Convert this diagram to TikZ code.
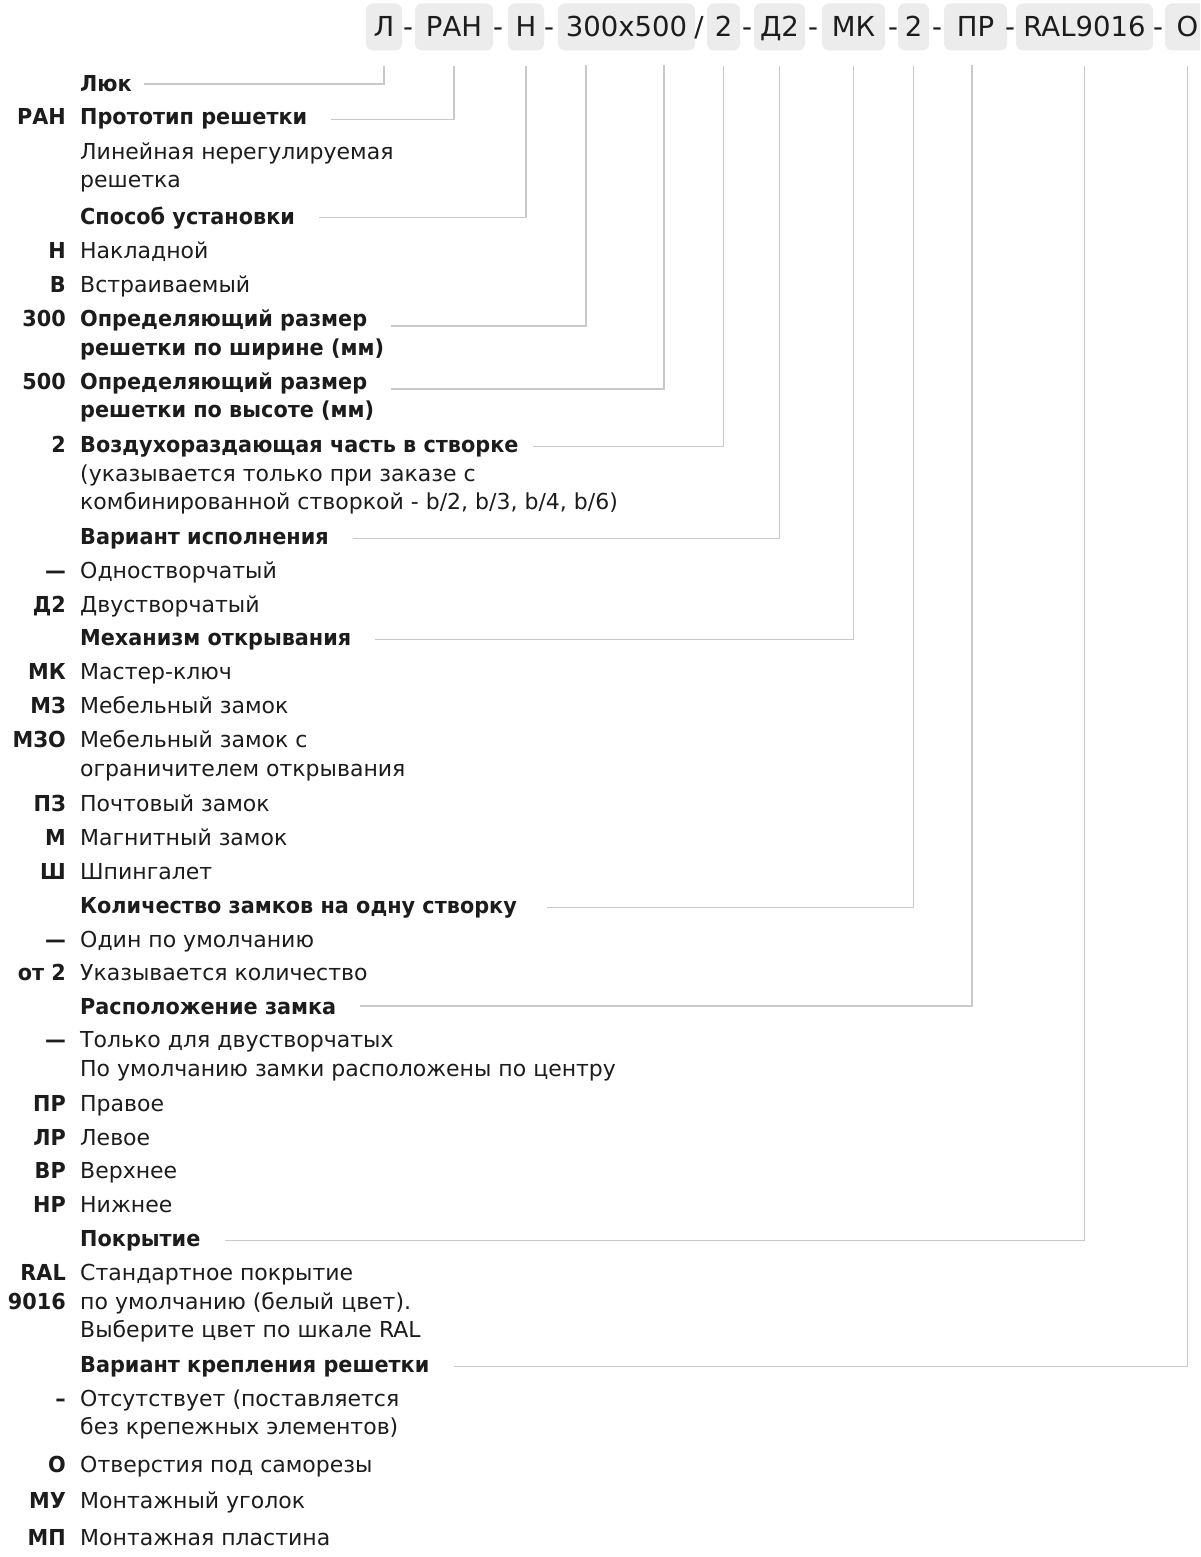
\documentclass[tikz,border=0pt]{standalone}
\usepackage{fontspec}
\setmainfont{DejaVu Sans}[BoldFeatures={FakeStretch=0.945}]
\definecolor{ink}{HTML}{1C1C1C}
\definecolor{boxgray}{HTML}{ECECEC}
\definecolor{linegray}{HTML}{C9C9C9}
\newcommand{\bodyfs}{\fontsize{22}{28}\selectfont}
\newcommand{\headfs}{\fontsize{27.5}{34}\selectfont}
\tikzset{
  code/.style={anchor=base east, font=\bodyfs\bfseries, inner sep=0pt, text=ink},
  desc/.style={anchor=base west, font=\bodyfs, inner sep=0pt, text=ink},
  ttl/.style={anchor=base west, font=\bodyfs\bfseries, inner sep=0pt, text=ink},
  cbox/.style={fill=boxgray, rounded corners=7pt, minimum height=47pt, inner xsep=0pt, inner ysep=0pt,
    font=\headfs, text=ink, text height=20pt, text depth=0pt, anchor=center},
  sepch/.style={font=\headfs, text=ink, inner sep=0pt, text height=20pt, text depth=0pt, anchor=center},
  lead/.style={draw=linegray, line width=1.3pt},
}
\begin{document}
\begin{tikzpicture}[x=1pt,y=-1pt]
\clip (0,0) rectangle (1200,1557);
\fill[white] (0,0) rectangle (1200,1557);
% header
\node[cbox, minimum width=36pt]  (bL)   at (384,27)   {Л};
\node[sepch] (s1) at (408,27) {-};
\node[cbox, minimum width=78pt]  (bRAN) at (454,27)   {РАН};
\node[sepch] (s2) at (498,27) {-};
\node[cbox, minimum width=36pt]  (bN)   at (526,27)   {Н};
\node[sepch] (s3) at (549,27) {-};
\node[cbox, minimum width=137pt] (bSz)  at (626.5,27) {300x500};
\node[sepch] (s4) at (699,27) {/};
\node[cbox, minimum width=33pt]  (bB)   at (723.5,27) {2};
\node[sepch] (s5) at (747,27) {-};
\node[cbox, minimum width=51pt]  (bD)   at (779.5,27) {Д2};
\node[sepch] (s6) at (813,27) {-};
\node[cbox, minimum width=63pt]  (bMK)  at (853.5,27) {МК};
\node[sepch] (s7) at (893,27) {-};
\node[cbox, minimum width=31pt]  (bQ)   at (913.5,27) {2};
\node[sepch] (s8) at (937,27) {-};
\node[cbox, minimum width=63pt]  (bPR)  at (975.5,27) {ПР};
\node[sepch] (s9) at (1010,27) {-};
\node[cbox, minimum width=137pt] (bRAL) at (1084.5,27) {RAL9016};
\node[sepch] (s10) at (1158,27) {-};
\node[cbox, minimum width=45pt]  (bO)   at (1187.5,27) {О};
\coordinate (tW) at (586,65);
\coordinate (tH) at (664,65);
\coordinate (tP) at (972,65);

% rows
\node[ttl] (tLuk) at (80,92) {Люк};
\node[code] (cRAN) at (66,125) {РАН};
\node[ttl] (tProt) at (80,125) {Прототип решетки};
\node[desc] (dProt1) at (80,160) {Линейная нерегулируемая};
\node[desc] (dProt2) at (80,188) {решетка};
\node[ttl] (tSpos) at (80,224) {Способ установки};
\node[code] (cN) at (66,258) {Н};
\node[desc] (dN) at (80,258) {Накладной};
\node[code] (cV) at (66,292) {В};
\node[desc] (dV) at (80,292) {Встраиваемый};
\node[code] (c300) at (66,326) {300};
\node[ttl] (tW1) at (80,326) {Определяющий размер};
\node[ttl] (tW2) at (80,355) {решетки по ширине (мм)};
\node[code] (c500) at (66,389) {500};
\node[ttl] (tH1) at (80,389) {Определяющий размер};
\node[ttl] (tH2) at (80,417) {решетки по высоте (мм)};
\node[code] (c2) at (66,452) {2};
\node[ttl] (tAir) at (80,452) {Воздухораздающая часть в створке};
\node[desc] (dAir1) at (80,481) {(указывается только при заказе с};
\node[desc] (dAir2) at (80,509) {комбинированной створкой - b/2, b/3, b/4, b/6)};
\node[ttl] (tVar) at (80,544) {Вариант исполнения};
\node[code] (cV1) at (66,578) {—};
\node[desc] (dV1) at (80,578) {Одностворчатый};
\node[code] (cV2) at (66,612) {Д2};
\node[desc] (dV2) at (80,612) {Двустворчатый};
\node[ttl] (tMech) at (80,645) {Механизм открывания};
\node[code] (cMK) at (66,679) {МК};
\node[desc] (dMK) at (80,679) {Мастер-ключ};
\node[code] (cMZ) at (66,713) {МЗ};
\node[desc] (dMZ) at (80,713) {Мебельный замок};
\node[code] (cMZO) at (66,747) {МЗО};
\node[desc] (dMZO1) at (80,747) {Мебельный замок с};
\node[desc] (dMZO2) at (80,776) {ограничителем открывания};
\node[code] (cPZ) at (66,811) {ПЗ};
\node[desc] (dPZ) at (80,811) {Почтовый замок};
\node[code] (cM) at (66,845) {М};
\node[desc] (dM) at (80,845) {Магнитный замок};
\node[code] (cSh) at (66,879) {Ш};
\node[desc] (dSh) at (80,879) {Шпингалет};
\node[ttl] (tQty) at (80,913) {Количество замков на одну створку};
\node[code] (cQ1) at (66,947) {—};
\node[desc] (dQ1) at (80,947) {Один по умолчанию};
\node[code] (cQ2) at (66,980) {от 2};
\node[desc] (dQ2) at (80,980) {Указывается количество};
\node[ttl] (tLoc) at (80,1014) {Расположение замка};
\node[code] (cL0) at (66,1047) {—};
\node[desc] (dL01) at (80,1047) {Только для двустворчатых};
\node[desc] (dL02) at (80,1076) {По умолчанию замки расположены по центру};
\node[code] (cPR) at (66,1111) {ПР};
\node[desc] (dPR) at (80,1111) {Правое};
\node[code] (cLR) at (66,1145) {ЛР};
\node[desc] (dLR) at (80,1145) {Левое};
\node[code] (cVR) at (66,1178) {ВР};
\node[desc] (dVR) at (80,1178) {Верхнее};
\node[code] (cNR) at (66,1212) {НР};
\node[desc] (dNR) at (80,1212) {Нижнее};
\node[ttl] (tCoat) at (80,1246) {Покрытие};
\node[code] (cRAL1) at (66,1280) {RAL};
\node[desc] (dRAL1) at (80,1280) {Стандартное покрытие};
\node[code] (cRAL2) at (66,1309) {9016};
\node[desc] (dRAL2) at (80,1309) {по умолчанию (белый цвет).};
\node[desc] (dRAL3) at (80,1337) {Выберите цвет по шкале RAL};
\node[ttl] (tFix) at (80,1372) {Вариант крепления решетки};
\node[code] (cF0) at (66,1406) {–};
\node[desc] (dF01) at (80,1406) {Отсутствует (поставляется};
\node[desc] (dF02) at (80,1434) {без крепежных элементов)};
\node[code] (cFO) at (66,1472) {О};
\node[desc] (dFO) at (80,1472) {Отверстия под саморезы};
\node[code] (cMU) at (66,1508) {МУ};
\node[desc] (dMU) at (80,1508) {Монтажный уголок};
\node[code] (cMP) at (66,1545) {МП};
\node[desc] (dMP) at (80,1545) {Монтажная пластина};

% leaders
\draw[lead] ([xshift=12pt]tLuk.east) -| ([yshift=-15pt]bL.south);
\draw[lead] ([xshift=24pt]tProt.east) -| ([yshift=-15pt]bRAN.south);
\draw[lead] ([xshift=24pt]tSpos.east) -| ([yshift=-15pt]bN.south);
\draw[lead] ([xshift=24pt,yshift=-6pt]tW1.east) -| (tW);
\draw[lead] ([xshift=24pt,yshift=-6pt]tH1.east) -| (tH);
\draw[lead] ([xshift=14pt]tAir.east) -| ([yshift=-15pt]bB.south);
\draw[lead] ([xshift=24pt]tVar.east) -| ([yshift=-15pt]bD.south);
\draw[lead] ([xshift=24pt]tMech.east) -| ([yshift=-15pt]bMK.south);
\draw[lead] ([xshift=30pt]tQty.east) -| ([yshift=-15pt]bQ.south);
\draw[lead] ([xshift=24pt]tLoc.east) -| (tP);
\draw[lead] ([xshift=24pt]tCoat.east) -| ([yshift=-15pt]bRAL.south);
\draw[lead] ([xshift=24pt]tFix.east) -| ([yshift=-15pt]bO.south);
\end{tikzpicture}
\end{document}
